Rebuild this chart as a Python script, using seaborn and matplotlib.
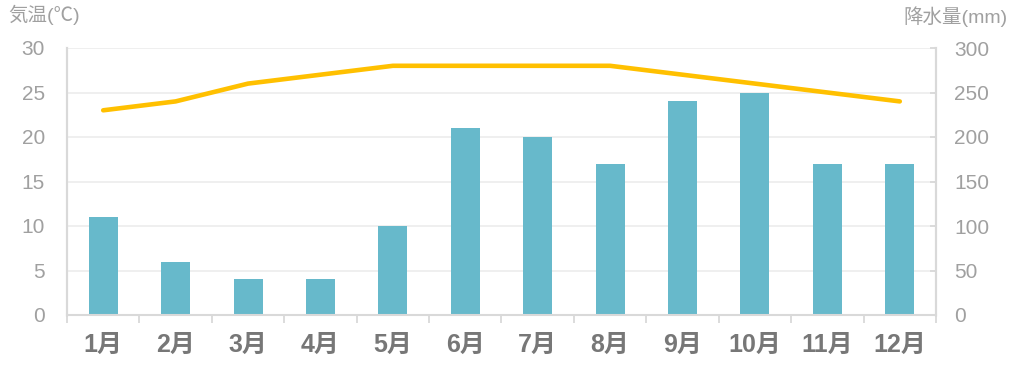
import matplotlib
matplotlib.use("Agg")
import matplotlib.pyplot as plt
import seaborn as sns
import pandas as pd
import numpy as np

months = ["1月", "2月", "3月", "4月", "5月", "6月", "7月", "8月", "9月", "10月", "11月", "12月"]
precip_mm = [110, 60, 40, 40, 100, 210, 200, 170, 240, 250, 170, 170]
temp_c = [23, 24, 26, 27, 28, 28, 28, 28, 27, 26, 25, 24]
left_ticks = [0, 5, 10, 15, 20, 25, 30]
right_ticks = [0, 50, 100, 150, 200, 250, 300]

sns.set_theme(style="white")
plt.rcParams['font.family'] = ['Liberation Sans', 'Noto Sans CJK JP', 'DejaVu Sans']

df = pd.DataFrame({"month": months, "precip": precip_mm, "temp": temp_c})

fig = plt.figure(figsize=(10.14, 3.70), dpi=100)
ax = fig.add_axes([67/1014, 1-315/370, (936-67)/1014, (315-48)/370])

bar_color = "#67B9CB"
line_color = "#FFC000"
spine_color = "#D9D9D9"
tick_color = "#A0A0A0"

sns.barplot(data=df, x="month", y="precip", color=bar_color, width=0.4,
            saturation=1, ax=ax, zorder=2, linewidth=0)
ax.set_ylim(0, 300)
ax.set_xlim(-0.5, 11.5)
ax.grid(axis="y", color="#EEEEEE", linewidth=1.3, zorder=0)
ax.set_axisbelow(True)
ax.set_xlabel("")
ax.set_ylabel("")

ax2 = ax.twinx()
sns.lineplot(x=np.arange(len(months)), y=temp_c, color=line_color, linewidth=3.3,
             ax=ax2, solid_capstyle="round")
ax2.set_ylim(0, 30)
ax2.set_xlim(-0.5, 11.5)
ax2.set_ylabel("")

ax.yaxis.tick_right()
ax.set_yticks(right_ticks)
ax2.yaxis.tick_left()
ax2.set_yticks(left_ticks)

for a in (ax, ax2):
    for s in a.spines.values():
        s.set_color(spine_color)
        s.set_linewidth(1.5)
    a.spines["top"].set_visible(False)
ax2.spines["bottom"].set_visible(False)

ax.tick_params(axis="y", right=True, left=False, labelright=True, labelleft=False,
               length=4, width=1.3, color=spine_color, pad=13, labelsize=15,
               labelcolor=tick_color, direction="in")
ax2.tick_params(axis="y", left=False, right=False, labelleft=True, labelright=False,
                length=0, pad=16, labelsize=15, labelcolor=tick_color)

# x ticks: labels at centers, tick marks at boundaries
ax.set_xticks(np.arange(len(months)))
ax.set_xticklabels(months, fontsize=18, fontweight="bold", color="#777777")
ax.tick_params(axis="x", which="major", length=0, pad=13)
ax.set_xticks(np.arange(-0.5, len(months), 1.0), minor=True)
ax.tick_params(axis="x", which="minor", bottom=True, length=6, width=1.3,
               color=spine_color, direction="out")

fig.text(8/1014, 1-15/370, "気温(℃)", fontsize=14, color=tick_color,
         ha="left", va="center")
fig.text(1008/1014, 1-17/370, "降水量(mm)", fontsize=14, color=tick_color,
         ha="right", va="center")

fig.savefig("out.png", dpi=100)
